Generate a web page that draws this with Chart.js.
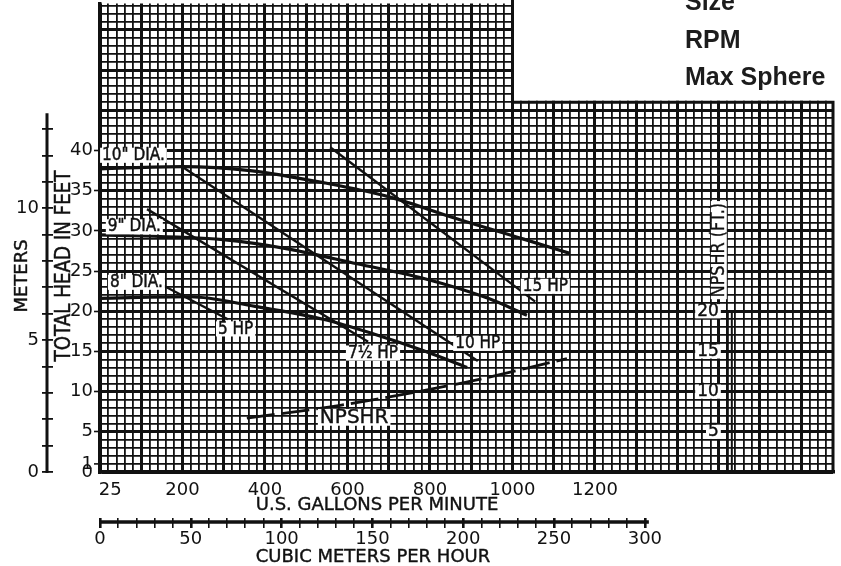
<!DOCTYPE html>
<html lang="en">
<head>
<meta charset="utf-8">
<title>Pump performance curve</title>
<script src="https://cdn.jsdelivr.net/npm/chart.js@4.4.1/dist/chart.umd.min.js"></script>
<style>
  html, body { margin: 0; padding: 0; background: #fff; }
  .chart-container { position: relative; width: 841px; height: 566px; }
</style>
</head>
<body>
<div class="chart-container">
  <canvas id="pump-chart" width="841" height="566"></canvas>
</div>

<script>
/* Head curves (US gallons per minute vs total head in feet) */
const dia10Gpm  = [0, 201, 364, 541, 703, 865, 1025, 1139];
const dia10Head = [37.7, 38.0, 37.5, 36.0, 34.2, 31.5, 29.0, 27.2];
const dia9Gpm   = [0, 298, 461, 623, 783, 941, 1035];
const dia9Head  = [29.5, 28.9, 27.7, 25.9, 24.1, 21.6, 19.5];
const dia8Gpm   = [0, 218, 376, 541, 662, 783, 890];
const dia8Head  = [21.6, 21.8, 20.6, 19.0, 17.2, 15.1, 13.0];

/* Horsepower lines */
const hp15Gpm  = [558, 1055];
const hp15Head = [40.4, 21.2];
const hp10Gpm  = [201, 916];
const hp10Head = [37.9, 13.8];
const hp7Gpm   = [114, 650];
const hp7Head  = [32.7, 16.2];
const hp5Gpm   = [138, 310];
const hp5Head  = [23.6, 19.0];

/* NPSHR (ft) */
const npshrGpm = [356, 582, 880, 1132];
const npshrFt  = [6.7, 8.3, 11.1, 14.1];

/* Tick labels */
const gpmLabels   = [25, 200, 400, 600, 800, 1000, 1200];
const feetLabels  = [1, 5, 10, 15, 20, 25, 30, 35, 40];
const meterLabels = [0, 5, 10];
const m3hLabels   = [0, 50, 100, 150, 200, 250, 300];
const npshrLabels = [5, 10, 15, 20];

const GPM_PER_M3H = 4.403;
const FT_PER_M = 3.2808;
const X_MAX = 1777;
const Y_MAX = 58.27;
const INK = '#111';
const NONE = 'rgba(0,0,0,0)';
const FAMILY = "'DejaVu Sans', sans-serif";

function points(xs, ys) {
  return xs.map((v, i) => ({ x: v, y: ys[i] }));
}
function range(a, b, step) {
  const out = [];
  for (let v = a; v <= b; v += step) out.push(v);
  return out;
}

const gpmTicks = range(0, 1760, 20).concat([25]).sort((a, b) => a - b);

function headCurve(xs, ys) {
  return { data: points(xs, ys), borderColor: INK, borderWidth: 3.2, pointRadius: 0,
           cubicInterpolationMode: 'monotone', fill: false };
}
function hpLine(xs, ys) {
  return { data: points(xs, ys), borderColor: INK, borderWidth: 2.4, pointRadius: 0, fill: false };
}

/* text helpers */
function drawText(ctx, text, px, py, opts) {
  const size = opts.size || 18;
  const squeeze = opts.squeeze || 1;
  ctx.save();
  ctx.font = (opts.weight || '') + ' ' + size + 'px ' + (opts.family || FAMILY);
  const w = ctx.measureText(text).width * squeeze;
  ctx.translate(px, py);
  if (opts.rotate) ctx.rotate(opts.rotate);
  let left = 0;
  if (opts.align === 'center') left = -w / 2;
  if (opts.align === 'right') left = -w;
  if (opts.boxed) {
    ctx.fillStyle = '#fff';
    ctx.fillRect(left - 2, -size * 0.42, w + 4, size * 0.84);
  }
  ctx.translate(left, 0);
  ctx.scale(squeeze, 1);
  ctx.fillStyle = opts.color || INK;
  ctx.textAlign = 'left';
  ctx.textBaseline = opts.baseline || 'middle';
  ctx.fillText(text, 0, 0);
  if (opts.heavy) {
    ctx.strokeStyle = opts.color || INK;
    ctx.lineWidth = opts.heavy;
    ctx.strokeText(text, 0, 0);
  }
  ctx.restore();
}

/* curve labels, anchored in chart units (gpm, ft) */
const curveLabels = [
  { text: '10" DIA.', gpm: 5, ft: 39.4 },
  { text: '9" DIA.', gpm: 19, ft: 30.5 },
  { text: '8" DIA.', gpm: 24, ft: 23.6 },
  { text: '5 HP', gpm: 286, ft: 17.8 },
  { text: '7\u00BD HP', gpm: 601, ft: 14.8 },
  { text: '10 HP', gpm: 861, ft: 16.0 },
  { text: '15 HP', gpm: 1025, ft: 23.1 }
];

const extras = {
  id: 'extras',
  beforeDatasetsDraw(chart) {
    const { ctx, chartArea, scales } = chart;
    const x = scales.x, y = scales.y;
    const xCut = x.getPixelForValue(1000);
    const yCut = y.getPixelForValue(46);
    ctx.save();
    ctx.fillStyle = '#fff';
    ctx.fillRect(xCut + 1.5, 0, chart.width - xCut, yCut - 1.5);
    ctx.strokeStyle = INK;
    ctx.lineWidth = 3;
    ctx.beginPath();
    ctx.moveTo(xCut, 0);
    ctx.lineTo(xCut, yCut);
    ctx.lineTo(chartArea.right, yCut);
    ctx.lineTo(chartArea.right, chartArea.bottom);
    ctx.stroke();
    ctx.restore();
  },
  afterDatasetsDraw(chart) {
    const { ctx, scales } = chart;
    const x = scales.x, y = scales.y, ym = scales.ym, x2 = scales.x2;

    curveLabels.forEach(l => {
      drawText(ctx, l.text, x.getPixelForValue(l.gpm), y.getPixelForValue(l.ft),
               { size: 18, squeeze: 0.85, boxed: true, heavy: 0.5 });
    });
    drawText(ctx, 'NPSHR', x.getPixelForValue(533), y.getPixelForValue(6.8),
             { size: 20, boxed: true, heavy: 0.4 });

    /* NPSHR axis on the right */
    const nx = x.getPixelForValue(1522);
    ctx.save();
    ctx.strokeStyle = INK;
    ctx.lineWidth = 2;
    ctx.beginPath();
    ctx.moveTo(nx, y.getPixelForValue(20));
    ctx.lineTo(nx, y.bottom);
    ctx.moveTo(nx + 4, y.getPixelForValue(20));
    ctx.lineTo(nx + 4, y.bottom);
    ctx.moveTo(nx - 6, y.getPixelForValue(20));
    ctx.lineTo(nx + 5, y.getPixelForValue(20));
    ctx.stroke();
    ctx.restore();
    npshrLabels.forEach(v => {
      drawText(ctx, String(v), nx - 9, y.getPixelForValue(v), { size: 17, align: 'right', boxed: true, heavy: 0.4 });
    });
    drawText(ctx, 'NPSHR (FT.)', nx - 9, y.getPixelForValue(27.6),
             { size: 19, squeeze: 0.84, align: 'center', rotate: -Math.PI / 2, boxed: true, heavy: 0.4 });

    /* meters axis line */
    ctx.save();
    ctx.strokeStyle = INK;
    ctx.lineWidth = 3;
    ctx.beginPath();
    const mx = ym.right - 6;
    ctx.moveTo(mx, ym.getPixelForValue(13.6));
    ctx.lineTo(mx, ym.getPixelForValue(0) + 1);
    ctx.stroke();
    /* cubic meters per hour axis line */
    const ly = x2.top + 4;
    ctx.lineWidth = 3.5;
    ctx.beginPath();
    ctx.moveTo(x2.getPixelForValue(0) - 1, ly);
    ctx.lineTo(x2.getPixelForValue(300) + 4, ly);
    ctx.stroke();
    ctx.restore();

    /* axis titles */
    drawText(ctx, 'TOTAL HEAD IN FEET', 64, 266,
             { size: 22, squeeze: 0.83, align: 'center', rotate: -Math.PI / 2, heavy: 0.5 });
    drawText(ctx, 'METERS', 22, 276, { size: 18, align: 'center', rotate: -Math.PI / 2, heavy: 0.4 });
    drawText(ctx, 'U.S. GALLONS PER MINUTE', 377, 505, { size: 18, align: 'center', heavy: 0.4 });
    drawText(ctx, 'CUBIC METERS PER HOUR', 373, 557, { size: 18, align: 'center', heavy: 0.4 });

    /* header text */
    const head = { size: 25, weight: 'bold', family: "'Liberation Sans', Arial, sans-serif",
                   baseline: 'alphabetic', color: '#1c1c1c' };
    drawText(ctx, 'Size', 685, 10, head);
    drawText(ctx, 'RPM', 685, 48, head);
    drawText(ctx, 'Max Sphere', 685, 85, head);
  }
};

const tickFont = c => ({ family: FAMILY, size: (c.tick && c.tick.label === '') ? 1 : 18 });

new Chart(document.getElementById('pump-chart'), {
  type: 'line',
  data: {
    datasets: [
      headCurve(dia10Gpm, dia10Head),
      headCurve(dia9Gpm, dia9Head),
      headCurve(dia8Gpm, dia8Head),
      hpLine(hp15Gpm, hp15Head),
      hpLine(hp10Gpm, hp10Head),
      hpLine(hp7Gpm, hp7Head),
      hpLine(hp5Gpm, hp5Head),
      { data: points(npshrGpm, npshrFt), borderColor: INK, borderWidth: 2.8, pointRadius: 0,
        borderDash: [28, 7], cubicInterpolationMode: 'monotone', fill: false }
    ]
  },
  options: {
    responsive: false,
    animation: false,
    events: [],
    layout: { padding: { left: 0, right: 8, top: 0, bottom: 0 } },
    plugins: { legend: { display: false }, tooltip: { enabled: false } },
    scales: {
      x: {
        type: 'linear', position: 'bottom', weight: 0, min: 0, max: X_MAX,
        afterBuildTicks: s => { s.ticks = gpmTicks.map(v => ({ value: v })); },
        afterFit: s => { s.height = 46; },
        grid: {
          color: c => (c.tick && c.tick.value === 25) ? NONE : INK,
          lineWidth: c => (c.tick && c.tick.value % 100 === 0) ? 3 : 1.8,
          drawTicks: false
        },
        border: { color: INK, width: 3.5 },
        ticks: {
          autoSkip: false, maxRotation: 0, minRotation: 0, padding: 8, color: INK, font: tickFont,
          callback: v => gpmLabels.includes(v) ? String(v) : ''
        }
      },
      x2: {
        type: 'linear', position: 'bottom', weight: 1, min: 0, max: X_MAX / GPM_PER_M3H,
        afterBuildTicks: s => { s.ticks = range(0, 300, 10).map(v => ({ value: v })); },
        afterFit: s => { s.height = 48; },
        grid: {
          drawOnChartArea: false, tickLength: 10, color: INK,
          lineWidth: c => (c.tick && c.tick.value % 50 === 0) ? 2.6 : 1.6
        },
        border: { display: false },
        ticks: {
          autoSkip: false, maxRotation: 0, minRotation: 0, padding: 1, color: INK, font: tickFont,
          callback: v => m3hLabels.includes(v) ? String(v) : ''
        }
      },
      y: {
        type: 'linear', position: 'left', weight: 0, min: 0, max: Y_MAX,
        afterBuildTicks: s => { s.ticks = range(0, 58, 1).map(v => ({ value: v })); },
        afterFit: s => { s.width = 47; },
        grid: {
          color: INK,
          lineWidth: c => (c.tick && c.tick.value % 5 === 0) ? 3 : 1.8,
          tickLength: 6,
          tickColor: c => (c.tick && feetLabels.includes(c.tick.value)) ? INK : NONE,
          tickWidth: 1.6
        },
        border: { color: INK, width: 3.5 },
        ticks: {
          autoSkip: false, padding: 1, color: INK, font: tickFont,
          callback: v => (v === 0 || feetLabels.includes(v)) ? String(v) : ''
        }
      },
      ym: {
        type: 'linear', position: 'left', weight: 1, min: 0, max: Y_MAX / FT_PER_M,
        afterBuildTicks: s => { s.ticks = range(0, 13, 1).map(v => ({ value: v })); },
        afterFit: s => { s.width = 53; },
        grid: { drawOnChartArea: false, tickLength: 11, color: INK, lineWidth: 1.8 },
        border: { display: false },
        ticks: {
          autoSkip: false, padding: 3, color: INK, font: tickFont,
          callback: v => meterLabels.includes(v) ? String(v) : ''
        }
      }
    }
  },
  plugins: [extras]
});
</script>
</body>
</html>
